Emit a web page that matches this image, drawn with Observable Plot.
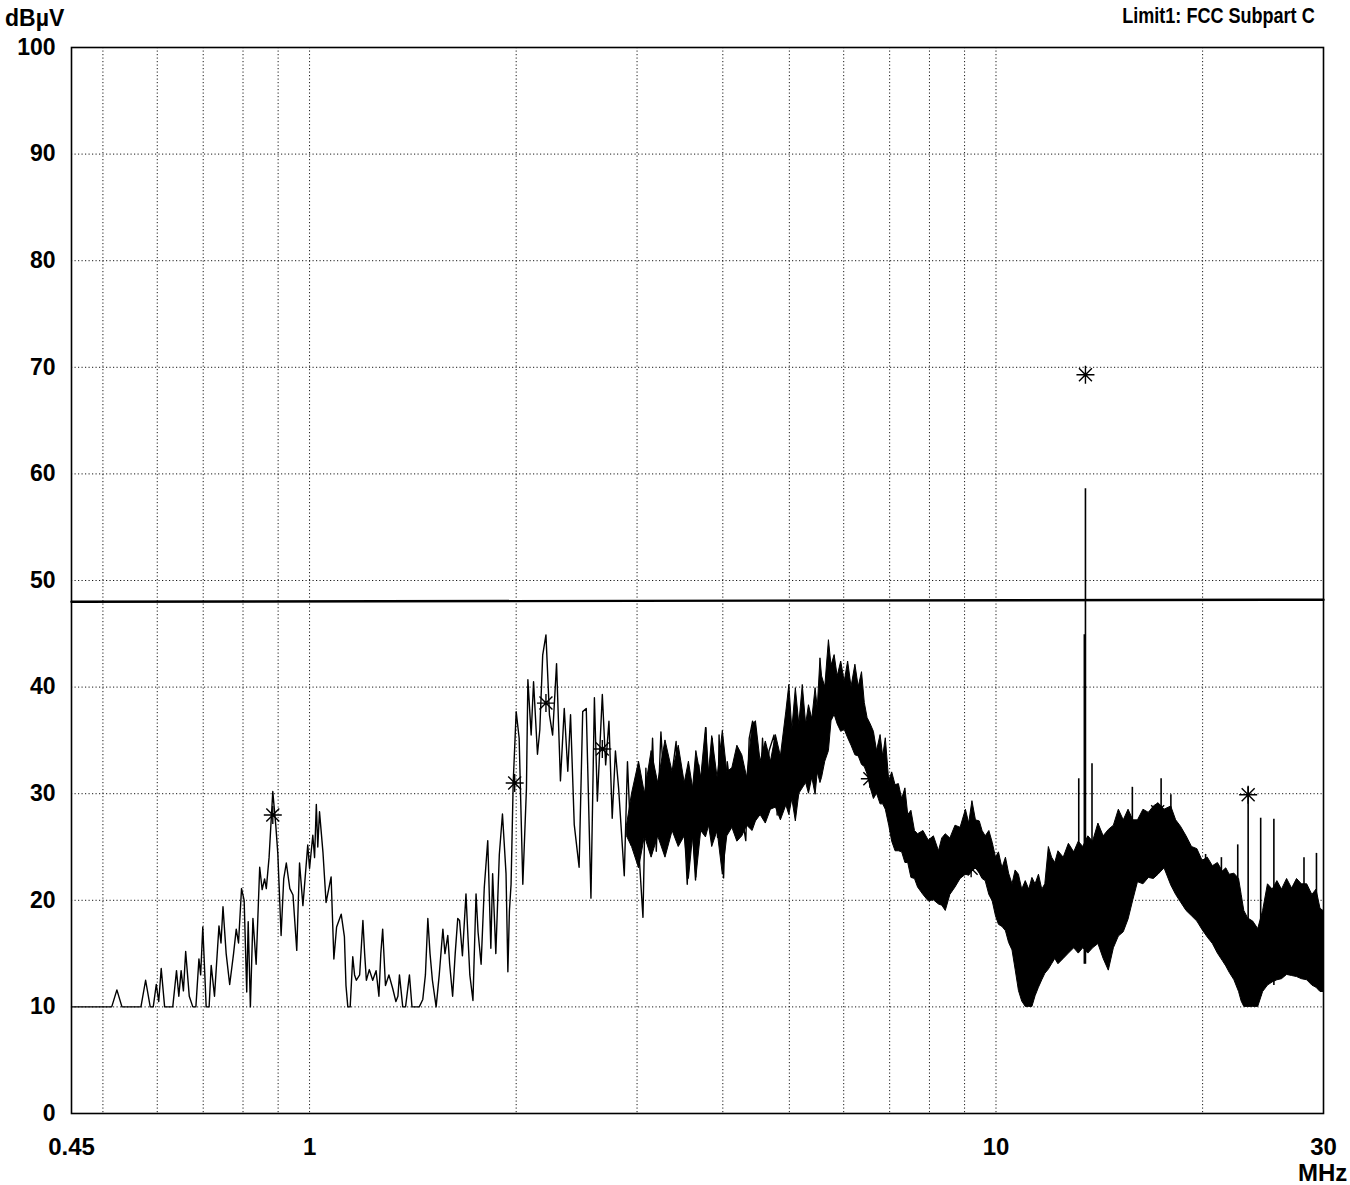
<!DOCTYPE html>
<html><head><meta charset="utf-8">
<script src="https://cdn.jsdelivr.net/npm/d3@7"></script>
<script src="https://cdn.jsdelivr.net/npm/@observablehq/plot@0.6"></script>
<style>
body{margin:0;background:#fff;}
#wrap{position:relative;width:1350px;height:1185px;font-family:"Liberation Sans",Arial,sans-serif;font-weight:bold;color:#000;}
.lbl{position:absolute;white-space:nowrap;line-height:1;}
#chart svg{display:block;overflow:visible;}
</style></head><body>
<div id="wrap">
<div id="chart"></div>
<div class="lbl" style="left:5px;top:7px;font-size:23px;">dBµV</div>
<div class="lbl" style="right:35px;top:5px;font-size:22px;transform:scaleX(0.82);transform-origin:right top;">Limit1: FCC Subpart C</div>
<div class="lbl" style="left:1298px;top:1161px;font-size:24px;">MHz</div>
</div>
<script>
// ---- axis values ----
const xTickValues = [0.45, 1, 10, 30];
const xGridValues = [0.5, 0.6, 0.7, 0.8, 0.9, 1, 2, 3, 4, 5, 6, 7, 8, 9, 10, 20];
const yTickValues = [0, 10, 20, 30, 40, 50, 60, 70, 80, 90, 100];
const yGridValues = [10, 20, 30, 40, 50, 60, 70, 80, 90];

// ---- limit line (MHz, dBµV) ----
const limitLine = [[0.45, 48.0], [30, 48.2]];

// ---- measured trace, sparse part (MHz, dBµV) ----
const trace = [
[0.45,10],[0.515,10],[0.524,11.6],[0.533,10],[0.568,10],[0.577,12.5],[0.586,10],[0.592,10],[0.598,12.1],[0.603,10.5],
[0.608,13.6],[0.615,10],[0.632,10],[0.640,13.4],[0.645,11],[0.650,13.4],[0.655,11.5],[0.660,15.2],[0.668,11],[0.676,10],
[0.683,10],[0.690,14.5],[0.694,13],[0.699,17.5],[0.707,10],[0.714,10],[0.719,13.9],[0.727,11],[0.738,17.6],[0.743,16],
[0.748,19.4],[0.756,15],[0.765,12.1],[0.775,15],[0.782,17.3],[0.788,16],[0.796,21.1],[0.803,20],[0.810,11.4],[0.814,18],
[0.820,10],[0.827,18.3],[0.836,14],[0.846,23.1],[0.853,21],[0.860,22],[0.865,21.1],[0.873,24],[0.884,30.2],[0.893,27],
[0.899,24.4],[0.909,16.7],[0.917,22],[0.925,23.5],[0.936,21.1],[0.946,20.5],[0.958,15.3],[0.967,23.5],[0.978,19.5],[0.994,25.2],
[1.0,23],[1.011,26.1],[1.017,24],[1.023,29.0],[1.028,25],[1.034,28.3],[1.046,24.5],[1.057,19.8],[1.066,21],[1.075,22.2],
[1.085,14.5],[1.095,17.5],[1.112,18.7],[1.124,16.6],[1.130,12],[1.137,10],[1.146,10],[1.156,14.7],[1.163,13],[1.170,12.5],
[1.183,13],[1.196,18.1],[1.203,15],[1.210,12.5],[1.222,13.5],[1.236,12.5],[1.250,13.4],[1.262,11],[1.270,15],[1.278,17.3],
[1.290,12],[1.305,13],[1.322,11.7],[1.336,10.5],[1.345,11],[1.352,13],[1.367,10],[1.380,10],[1.398,13],[1.410,10],
[1.445,10],[1.462,10.7],[1.475,13],[1.487,18.3],[1.498,15],[1.510,12.5],[1.529,10],[1.545,13],[1.564,17.3],[1.575,15],
[1.590,16.7],[1.600,14],[1.616,11],[1.630,15],[1.644,18.3],[1.654,18.1],[1.670,14.8],[1.690,20.6],[1.700,17],[1.712,13],
[1.730,10.6],[1.748,20.6],[1.760,17],[1.778,14],[1.797,21.2],[1.818,25.6],[1.837,15.5],[1.848,22.5],[1.868,15],[1.890,24.3],
[1.910,28.1],[1.933,22.5],[1.945,13.3],[1.955,19],[1.966,21.5],[1.980,31],[2.0,37.7],[2.02,35.2],[2.045,21.5],[2.07,30.5],
[2.08,40.7],[2.103,35.5],[2.12,40.5],[2.148,33.7],[2.165,36],[2.186,43],[2.21,44.9],[2.236,37.4],[2.26,35.5],[2.29,42.2],
[2.32,31.2],[2.35,38],[2.378,32.1],[2.40,37.4],[2.43,27.1],[2.47,23.1],[2.5,37.7],[2.53,38.0],[2.57,20.2],[2.6,39],
[2.626,29.3],[2.67,39.3],[2.7,32.7],[2.73,36.8],[2.76,27.7],[2.79,34],[2.82,30.5],[2.874,22.3],[2.905,33.0],[2.94,25.2],
[2.99,27.4],[3.02,24.3],[3.06,18.4],[3.09,32.4],[3.12,25.2],[3.16,35.2],[3.2,24.6],[3.25,35.8],[3.31,26.7],[3.36,31],
[3.42,34.9],[3.45,25.9],[3.49,31],[3.55,21.5],[3.59,29.6],[3.65,21.9],[3.69,32.7],[3.73,28.5],[3.78,36.2],[3.82,27.4],
[3.86,35.2],[3.93,25.9],[3.95,35.5],[4.01,22.1],[4.06,33],[4.13,29],[4.2,31.9],[4.27,27.7],[4.32,25.6],[4.37,35.2],
[4.42,36.8],[4.47,36],[4.52,28],[4.57,35.2],[4.62,28.6],[4.67,34],[4.75,35.5],[4.8,28]
];

// ---- dense part: lower / upper envelope (MHz, low dBµV, high dBµV) ----
const band = [
[2.9,26,27],[2.95,25,30],[3.02,23,33],[3.08,26,30],[3.15,24,34],[3.22,26,31],[3.3,24,35],[3.38,26.5,32],[3.45,25,34.5],
[3.52,26,31],[3.57,22,33],[3.62,26,30.5],[3.66,22.1,34],[3.72,26.5,31.5],[3.78,25.9,36.2],[3.82,27,32],[3.86,25,35.4],
[3.93,26.5,31.5],[4.0,22.4,35.9],[4.06,26,32],[4.13,26.8,32.4],[4.2,25.5,34.5],[4.27,26,33.6],[4.34,27,31.5],[4.42,26.5,36.4],
[4.47,27.4,36.8],[4.54,28,33],[4.62,27.2,34.9],[4.7,28.5,33],[4.78,28.7,35.5],[4.86,27.5,33.5],[4.95,28.9,37.7],[5.0,28,40.2],
[5.05,29.5,36],[5.11,27.4,39.9],[5.17,30,36.5],[5.23,30.5,40.2],[5.29,31,36.5],[5.34,30,38.3],[5.4,31.5,37],[5.46,29.9,39.9],
[5.5,32,38],[5.55,31,42.7],[5.58,31.5,41],[5.64,33,40],[5.71,34,44.4],[5.76,36.8,42],[5.82,37.4,43],[5.88,36.5,41],
[5.95,35.8,42.4],[6.02,36,40.5],[6.09,35.2,42.4],[6.16,34.5,40],[6.24,33.6,42.1],[6.31,33.5,40],[6.38,32.7,41.4],[6.44,32.5,38.5],
[6.5,31.8,37.1],[6.57,30.5,36.5],[6.64,29.5,35.8],[6.71,30,34],[6.79,29,35.5],[6.85,29,33.5],[6.91,28.5,35.2],[6.99,27,31.2],
[7.06,25.5,32],[7.14,24.6,30.8],[7.22,24.6,30.9],[7.3,24.5,29.5],[7.38,23.5,30.5],[7.45,23.5,28],[7.53,22.1,28.4],[7.62,22,26.5],
[7.70,21.2,26.2],[7.84,20.5,26.5],[7.98,19.9,25.6],[8.12,20,26],[8.26,19.6,24.6],[8.35,19.5,25.8],[8.45,19.0,26.2],[8.58,20.5,25.8],
[8.73,21.2,27],[8.88,22,26.8],[9.04,22.4,28.5],[9.14,22.3,27.2],[9.24,22.7,29.3],[9.35,23,27.5],[9.47,22.5,27.4],[9.56,22,26.5],
[9.66,21.8,26],[9.78,20.5,26.5],[9.89,19.9,25.4],[10.0,18.5,24],[10.1,17.7,24.5],[10.22,17.5,23],[10.34,17.1,24],[10.45,16,22.5],
[10.57,15.3,21.5],[10.68,13.5,22.8],[10.8,11.5,22.4],[10.92,10.5,21],[11.05,10,21.8],[11.18,10,21],[11.3,10,22.1],[11.42,11,21.5],
[11.55,11.8,22.4],[11.68,12.5,21],[11.8,13.1,21.5],[11.94,13.5,25],[12.07,14.0,24],[12.2,14.5,23.5],[12.33,14,24.6],[12.55,14.5,24],
[12.77,15,25.3],[13.0,15.5,24.5],[13.2,15,25.5],[13.4,15.5,25],[13.63,15,26],[13.85,15.5,25.5],[14.1,15.9,27.2],[14.35,14.5,26],
[14.6,13.4,26.6],[14.85,15.5,27],[15.1,16.6,28.5],[15.35,17,27.5],[15.6,18.2,28.5],[15.85,20,27.5],[16.1,21.7,27.5],[16.4,21.5,28.5],
[16.7,22.1,28.2],[16.98,22,28.8],[17.25,22.4,29.1],[17.6,23,28.5],[18.0,21.4,28.8],[18.3,20.5,27.5],[18.6,19.8,26.9],[18.95,19,26],
[19.3,18.5,25],[19.65,18,24.8],[20.0,17.2,23.7],[20.35,16.5,24],[20.7,15.9,23.2],[21.05,15,23.5],[21.4,14.3,22.7],[21.65,13.8,23],
[21.9,13.2,22.4],[22.25,12.5,22.5],[22.6,11.4,22],[22.8,10.5,20.5],[23.0,10,19],[23.3,10,18.3],[23.7,10,18],[24.1,10,17.3],
[24.5,11.4,19],[24.9,12,21.5],[25.3,12.3,21],[25.7,12.5,21.8],[26.1,12.6,21],[26.55,13,22],[27.0,12.9,21.1],[27.45,12.8,22],
[27.9,12.6,21.5],[28.4,12.5,21.5],[28.9,12.0,20.5],[29.3,11.8,21],[29.7,11.4,19.2],[30,11.4,19]
];

// ---- narrow spikes (MHz, from dBµV, to dBµV) ----
const spikes = [
[13.2,20,31.4],[13.45,14,44.9],[13.5,14,58.6],[13.8,20,32.8],[15.8,22,30.6],[17.4,24,31.4],[17.98,24,29.9],
[20.2,17,24.3],[21.3,15,24],[22.5,12,25.2],[23.3,10,30.6],[24.3,11,27.7],[25.4,12,27.6],[28.1,13,24],[29.3,12,24.4]
];

// ---- peak markers (MHz, dBµV) ----
const markers = [
[0.884,28.0],[1.99,31.0],[2.21,38.5],[2.67,34.2],[3.33,30.7],[6.55,31.4],[9.2,23.0],[13.5,69.3],[17.2,28.3],[23.3,29.9]
];

const asterisk8 = {
  draw(ctx, size) {
    const r = Math.sqrt(size / Math.PI), d = r * 0.72;
    ctx.moveTo(-r, 0); ctx.lineTo(r, 0);
    ctx.moveTo(0, -r); ctx.lineTo(0, r);
    ctx.moveTo(-d, -d); ctx.lineTo(d, d);
    ctx.moveTo(-d, d); ctx.lineTo(d, -d);
  }
};

const gridStyle = {stroke: "#000", strokeOpacity: 0.9, strokeWidth: 1, strokeDasharray: "1.2,2.3"};

const chart = Plot.plot({
  width: 1350, height: 1185,
  marginLeft: 71, marginRight: 27, marginTop: 47, marginBottom: 72,
  x: {type: "log", domain: [0.45, 30]},
  y: {domain: [0, 100]},
  style: {fontFamily: "'Liberation Sans', Arial, sans-serif", fontWeight: "bold", color: "#000", background: "#fff", overflow: "visible"},
  marks: [
    Plot.gridX(xGridValues, gridStyle),
    Plot.gridY(yGridValues, gridStyle),
    Plot.axisX(xTickValues, {tickSize: 0, tickPadding: 24, fontSize: 24, fontWeight: "bold", label: null, tickFormat: d => String(d)}),
    Plot.axisY(yTickValues, {tickSize: 0, tickPadding: 16, fontSize: 23, fontWeight: "bold", label: null}),
    Plot.areaY(band, {x: d => d[0], y1: d => d[1], y2: d => d[2], fill: "#000", stroke: "#000", strokeWidth: 1}),
    Plot.line(trace, {x: d => d[0], y: d => d[1], stroke: "#000", strokeWidth: 1.4}),
    Plot.ruleX(spikes, {x: d => d[0], y1: d => d[1], y2: d => d[2], stroke: "#000", strokeWidth: 1.6}),
    Plot.line(limitLine, {x: d => d[0], y: d => d[1], stroke: "#000", strokeWidth: 2.4}),
    Plot.dot(markers, {x: d => d[0], y: d => d[1], symbol: asterisk8, r: 9, fill: "none", stroke: "#000", strokeWidth: 1.4}),
    Plot.frame({stroke: "#000", strokeWidth: 1.6})
  ]
});
document.getElementById("chart").appendChild(chart);
</script>
</body></html>
